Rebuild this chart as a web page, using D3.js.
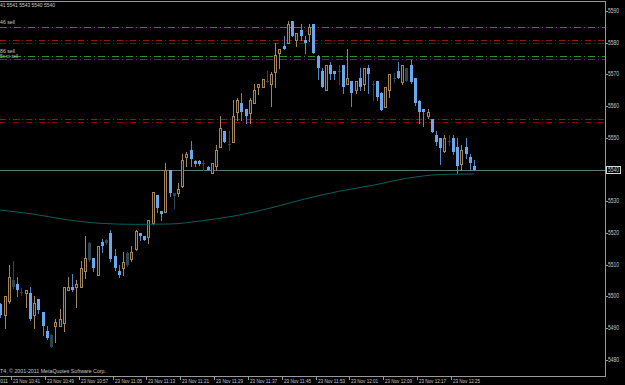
<!DOCTYPE html>
<html><head><meta charset="utf-8">
<script src="https://cdn.jsdelivr.net/npm/d3@7"></script>
<style>html,body{margin:0;padding:0;background:#000;}svg{display:block;}</style>
</head><body>
<svg id="c" width="625" height="385"></svg>
<script>
// ---- data ----
const startTime = "10:38";
const open  = [5497.5,5494,5498.5,5505,5504,5501.5,5501,5501,5494,5499,5495,5489,5487.8,5490.7,5490.7,5491.7,5502,5503,5502.8,5503,5508,5516.7,5512,5506.7,5517,5517.8,5520,5512.8,5508,5508.8,5513.8,5511.8,5514.8,5520,5519,5518.8,5523,5532,5527,5526.7,5539.8,5532.5,5532.5,5534.8,5543.8,5546,5542.8,5542.8,5542,5540.8,5538.8,5541,5547,5552,5548,5548.8,5558,5561,5559,5557.7,5561,5566,5566,5568,5567,5570.8,5576.8,5579,5580,5587,5580.8,5584,5581,5582.7,5586,5575.8,5571.2,5565,5573,5571,5571,5573,5567,5568,5565,5569,5567,5572,5567,5568,5564,5559.8,5565,5569,5571,5567.7,5572,5573,5569,5561.5,5559,5556.8,5555.8,5551,5549.8,5545.8,5549,5549.8,5547,5541.8,5547,5544,5541];
const high  = [5498,5500,5510,5511,5506,5502.5,5502,5503,5500,5499,5495,5490.6,5488,5492.7,5496,5503,5506,5507,5505,5511,5519,5517,5512,5516,5518,5518,5521,5514.8,5510,5514,5514,5516,5521,5520,5519,5524,5533,5532,5527,5542,5540,5532.5,5535.8,5545,5545.5,5549,5543,5543,5543,5541,5542,5547.7,5557,5552,5552,5562,5562.7,5564,5559,5562.7,5567,5567,5568.7,5571,5570.8,5580,5578,5582,5587,5587,5583,5586,5582,5586,5586,5576,5572,5573,5574,5571,5573,5573,5578,5568,5568,5572,5572,5573,5568,5568,5564.5,5566,5570.2,5570.3,5573.8,5573,5572,5574.7,5569,5561.9,5559,5559,5555.8,5552,5550,5550.8,5550.8,5550.8,5549.8,5547.7,5549.8,5545,5543];
const low   = [5493.5,5490,5498,5502.5,5500,5500.5,5496.7,5492.5,5490,5494.6,5487.8,5486.5,5484,5485.7,5490.5,5489,5502,5501.8,5496.7,5502.8,5505.7,5511,5508,5506.7,5514,5516.5,5511,5508.3,5506,5506.7,5509.5,5511,5514.6,5517.8,5517.8,5516.7,5522.8,5526.7,5524,5526.5,5531.6,5527.7,5531.7,5534.5,5541,5541,5541,5541.5,5540,5540,5538.8,5540,5547,5548.8,5546,5548.8,5555.6,5555.6,5554.8,5554.8,5561,5563.8,5566,5567.7,5560,5566,5572,5578,5579.8,5582,5579,5580.8,5576.8,5580.6,5576.8,5568.7,5566,5565,5568.7,5568.7,5567,5564,5567,5560,5564,5565,5565,5564,5562,5562,5558.8,5559.8,5563,5567.7,5568.8,5567,5568,5567.2,5560.5,5554.8,5553.8,5556.4,5551.7,5547.7,5541.8,5545.6,5547.7,5545,5538.8,5539.8,5543.5,5539.8,5540];
const close = [5494,5500,5506,5503,5502,5501.5,5502,5492.7,5498,5495.7,5490.6,5486.7,5484,5491.8,5492.8,5502.8,5503,5502,5504,5509,5512,5511.5,5508.8,5516,5516,5516.7,5511.7,5508.8,5506.7,5510.8,5510,5514,5520.7,5519,5517.8,5524,5532.8,5527.7,5526,5540,5532.5,5531.5,5533.8,5543,5545,5543.2,5541.7,5541.8,5542,5540,5542,5546,5553,5548.8,5548,5557,5562,5558,5557,5562,5565,5567,5568.7,5568,5570,5576,5578,5578,5586,5582,5583,5582,5580,5584.8,5576.8,5572,5566,5573,5570,5570,5571,5566,5569,5564,5568,5566,5572,5570,5567,5563,5558.8,5566,5570,5569,5568.8,5573,5568,5567.7,5561,5558,5558,5558.2,5551.8,5548.8,5546.7,5550,5549,5545.6,5541,5546.2,5545,5542,5540];
const dimBars = [3,5,12,21,25,30,41,48,54,63,80,88,93,96,106];
// moving average read every 8 bars
const maIndex = [0,8,16,24,32,40,48,56,64,72,80,88,96,104,112];
const maValue = [5527.2,5525.9,5524.1,5523,5522.7,5522.8,5523.9,5525.5,5527.9,5530.7,5533.1,5535,5537.2,5538.4,5538.6];
const bidPrice = 5540;
const greenLevels = [5585, 5575.8, 5574.9];
const redLevels = [5580.8, 5579.9, 5555.8, 5554.9];
const orderLabels = ["46 sell", "86 sell", "5x.xx sell"];
const orderLabelPrices = [5585.9, 5576.8, 5575.3];
const yTicks = [5480,5490,5500,5510,5520,5530,5540,5550,5560,5570,5580,5590];
const timeTicks = ["10:41","10:49","10:57","11:05","11:13","11:21","11:29","11:37","11:45","11:53","12:01","12:09","12:17","12:25"];
const firstDate = "23 Nov 2011";
const headerText = "41  5541 5543 5540 5540";
const copyright = "T4, \u00a9 2001-2011 MetaQuotes Software Corp.";

// ---- drawing ----
const svg = d3.select("#c");
svg.append("rect").attr("width",625).attr("height",385).attr("fill","#000");
const plotR = 605, plotB = 376, plotT = 1;
const x = d3.scaleLinear().domain([0,112]).range([0.3, 474.06]);
const y = d3.scaleLinear().domain([5480,5590]).range([359.7, 11]);
const font = "'Liberation Sans Narrow','Liberation Sans',Arial,sans-serif";
const txt = "#c8c8c8";
function label(xp, yp, s, len, size) {
  const t = svg.append("text").attr("x",xp).attr("y",yp).attr("fill",txt)
    .attr("font-family",font).attr("font-size",size||6).text(s);
  if (len) t.attr("textLength",len).attr("lengthAdjust","spacingAndGlyphs");
  return t;
}

const g = svg.append("g").attr("shape-rendering","crispEdges");

// level lines
greenLevels.forEach((p,i)=>{
  g.append("line").attr("x1",0).attr("x2",plotR).attr("y1",Math.round(y(p))+0.5).attr("y2",Math.round(y(p))+0.5)
   .attr("stroke", i===0?"#2a862a":(i===1?"#2c922c":"#0f620f")).attr("stroke-dasharray","7,3,1,3");
});
redLevels.forEach((p,i)=>{
  g.append("line").attr("x1",0).attr("x2",plotR).attr("y1",Math.round(y(p))+0.5).attr("y2",Math.round(y(p))+0.5)
   .attr("stroke", i%2===0?"#a01212":"#7c0a0a").attr("stroke-dasharray","6,3,1,3");
});
orderLabels.forEach((s,i)=>{
  label(0, y(orderLabelPrices[i]), s, i===2?18:15, i===2?5:6);
});

// moving average
const maPts = maIndex.map((d,i)=>[x(d), y(maValue[i])]);
svg.append("path").attr("d", d3.line().curve(d3.curveMonotoneX)(maPts)).attr("fill","none").attr("stroke","#0b5f5f").attr("stroke-width",1);

// bid line
g.append("line").attr("x1",0).attr("x2",plotR).attr("y1",Math.round(y(bidPrice))+0.5).attr("y2",Math.round(y(bidPrice))+0.5)
  .attr("stroke","#5a7878").attr("stroke-width",1.5);

// candles
const bullC = "#a3845c", bullFill = "#17120d", bearC = "#6aa8ee", dimC = "#2c4552";
open.forEach((o,i)=>{
  const c = close[i], cx = Math.round(x(i));
  const dim = dimBars.includes(i);
  const bull = c > o;
  g.append("line").attr("x1",cx+0.5).attr("x2",cx+0.5).attr("y1",Math.round(y(high[i]))).attr("y2",Math.round(y(low[i]))+1).attr("stroke", dim?dimC:(bull?bullC:"#5088c8"));
  const top = Math.round(y(Math.max(o,c))), bot = Math.round(y(Math.min(o,c)));
  const h = Math.max(1, bot-top);
  if (dim) {
    g.append("rect").attr("x",cx-1).attr("y",top).attr("width",3).attr("height",h).attr("fill",dimC);
  } else if (bull) {
    g.append("rect").attr("x",cx-1).attr("y",top).attr("width",3).attr("height",h+1).attr("fill",bullC);
    if (h>1) g.append("rect").attr("x",cx).attr("y",top+1).attr("width",1).attr("height",h-1).attr("fill",bullFill);
  } else {
    g.append("rect").attr("x",cx-1).attr("y",top).attr("width",3).attr("height",h).attr("fill",bearC);
  }
});

// frame
g.append("line").attr("x1",0).attr("x2",plotR+1).attr("y1",plotT+0.5).attr("y2",plotT+0.5).attr("stroke","#9a9a9a");
g.append("line").attr("x1",plotR+0.5).attr("x2",plotR+0.5).attr("y1",plotT).attr("y2",plotB+1).attr("stroke","#9a9a9a");
g.append("line").attr("x1",0).attr("x2",plotR+1).attr("y1",plotB+0.5).attr("y2",plotB+0.5).attr("stroke","#9a9a9a");

// y axis
yTicks.forEach(v=>{
  const yy = Math.round(y(v));
  g.append("line").attr("x1",plotR+1).attr("x2",plotR+3).attr("y1",yy+0.5).attr("y2",yy+0.5).attr("stroke","#9a9a9a");
  if (v!==bidPrice) label(608, yy+2.2, v, 11, 6.3);
});
// bid label
const by = Math.round(y(bidPrice));
svg.append("rect").attr("x",606.5).attr("y",by-3.5).attr("width",14).attr("height",7).attr("fill","#000").attr("stroke","#d8d8d8").attr("stroke-width",1);
label(608, by+2.2, bidPrice, 11, 6.3);

// x axis
const toMin = s => { const [h,m]=s.split(":").map(Number); return h*60+m; };
const t0 = toMin(startTime);
label(-19, 383, firstDate, 27);
timeTicks.forEach(t=>{
  const xi = Math.round(x(toMin(t)-t0)) - 2;
  g.append("line").attr("x1",xi+0.5).attr("x2",xi+0.5).attr("y1",plotB+1).attr("y2",plotB+4).attr("stroke","#9a9a9a");
  label(xi+2, 383, "23 Nov "+t, 27);
});

// header + copyright
label(0, 7, headerText, 55);
label(0, 373, copyright, 106);
</script>
</body></html>
